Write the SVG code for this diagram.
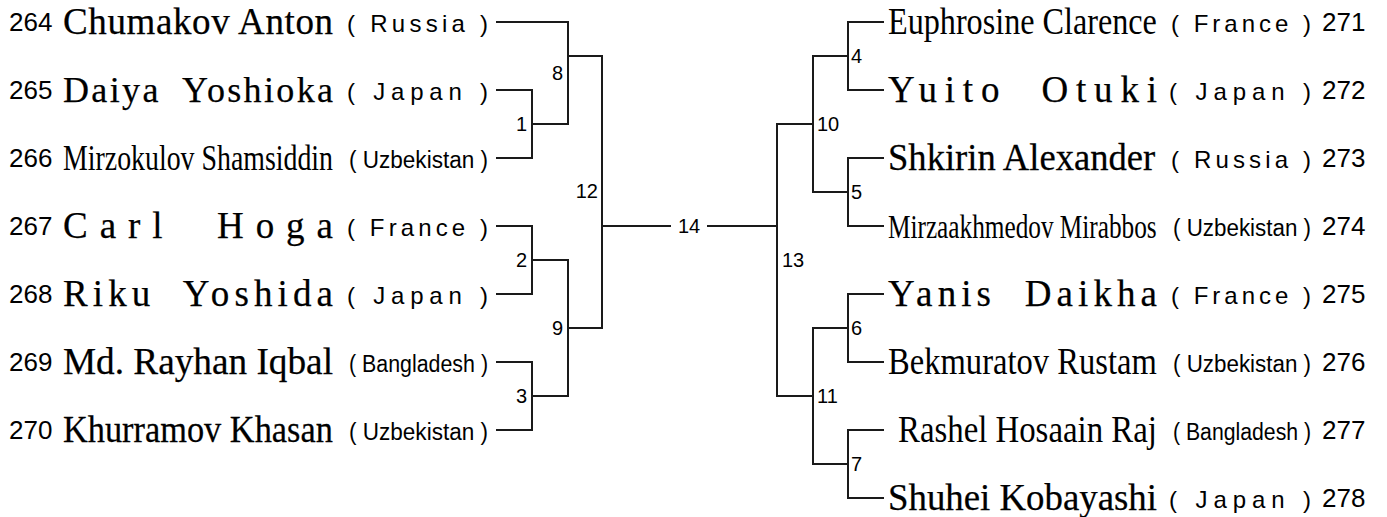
<svg xmlns="http://www.w3.org/2000/svg" width="1387" height="517" viewBox="0 0 1387 517">
<style>
.bg{fill:#ffffff}
.num{font-family:"Liberation Sans",Arial,sans-serif;font-size:26px;fill:#000}
.nm{font-family:"Liberation Serif","Times New Roman",serif;font-size:37px;fill:#000}
.hv{stroke:#000;stroke-width:0.25}
.ct{font-family:"Liberation Sans",Arial,sans-serif;font-size:24px;fill:#000}
.lb{font-family:"Liberation Sans",Arial,sans-serif;font-size:20px;fill:#000}
.ln{fill:none;stroke:#1a1a1a;stroke-width:2;stroke-linecap:square}
</style>
<rect class="bg" x="0" y="0" width="1387" height="517"/>

<g id="connectors">
<path class="ln" d="M497,22 H568 M497,90 H532 V158 H497 M532,124 H568 M568,22 V124 M568,56 H602"/>
<path class="ln" d="M497,226 H532 V294 H497 M532,260 H568 M497,362 H532 V430 H497 M532,396 H568 M568,260 V396 M568,328 H602"/>
<path class="ln" d="M602,56 V328 M602,226 H670 M708,226 H777"/>
<path class="ln" d="M777,124 V396 M777,124 H813 M777,396 H813"/>
<path class="ln" d="M813,56 V192 M813,56 H848 M813,192 H848 M848,22 V90 M848,22 H883 M848,90 H883 M848,158 V226 M848,158 H883 M848,226 H883"/>
<path class="ln" d="M813,328 V464 M813,328 H848 M813,464 H848 M848,294 V362 M848,294 H883 M848,362 H883 M848,430 V498 M848,430 H883 M848,498 H883"/>
</g>

<g id="p264"><text class="num" x="9" y="31">264</text><text class="nm hv" x="63" y="34" textLength="270" lengthAdjust="spacing">Chumakov Anton</text><text class="ct" x="347" y="32" textLength="141" lengthAdjust="spacing">( Russia )</text></g>
<g id="p265"><text class="num" x="9" y="99">265</text><text class="nm hv" x="63" y="102" style="font-size:36px" xml:space="preserve" textLength="270" lengthAdjust="spacing">Daiya  Yoshioka</text><text class="ct" x="347" y="100" textLength="141" lengthAdjust="spacing">( Japan )</text></g>
<g id="p266"><text class="num" x="9" y="167">266</text><text class="nm" transform="translate(63,170) scale(0.796,1)" x="0" y="0" style="font-size:35px">Mirzokulov Shamsiddin</text><text class="ct" x="349" y="168" style="font-size:23px" textLength="139" lengthAdjust="spacingAndGlyphs">( Uzbekistan )</text></g>
<g id="p267"><text class="num" x="9" y="235">267</text><text class="nm hv" x="63" y="238" xml:space="preserve" textLength="270" lengthAdjust="spacing">Carl  Hoga</text><text class="ct" x="347" y="236" textLength="141" lengthAdjust="spacing">( France )</text></g>
<g id="p268"><text class="num" x="9" y="303">268</text><text class="nm hv" x="63" y="306" xml:space="preserve" textLength="270" lengthAdjust="spacing">Riku  Yoshida</text><text class="ct" x="347" y="304" textLength="141" lengthAdjust="spacing">( Japan )</text></g>
<g id="p269"><text class="num" x="9" y="371">269</text><text class="nm hv" x="63" y="374" textLength="270" lengthAdjust="spacingAndGlyphs">Md. Rayhan Iqbal</text><text class="ct" x="349" y="372" style="font-size:23px" textLength="139" lengthAdjust="spacingAndGlyphs">( Bangladesh )</text></g>
<g id="p270"><text class="num" x="9" y="439">270</text><text class="nm hv" transform="translate(63,442) scale(0.928,1)" x="0" y="0">Khurramov Khasan</text><text class="ct" x="349" y="440" style="font-size:23px" textLength="139" lengthAdjust="spacingAndGlyphs">( Uzbekistan )</text></g>

<g id="p271"><text class="nm" transform="translate(888,34) scale(0.870,1)" x="0" y="0">Euphrosine Clarence</text><text class="ct" x="1171" y="32" textLength="140" lengthAdjust="spacing">( France )</text><text class="num" x="1322" y="31">271</text></g>
<g id="p272"><text class="nm hv" x="888" y="102" xml:space="preserve" textLength="269" lengthAdjust="spacing">Yuito  Otuki</text><text class="ct" x="1169" y="100" textLength="142" lengthAdjust="spacing">( Japan )</text><text class="num" x="1322" y="99">272</text></g>
<g id="p273"><text class="nm hv" transform="translate(888,170) scale(0.989,1)" x="0" y="0">Shkirin Alexander</text><text class="ct" x="1171" y="168" textLength="140" lengthAdjust="spacing">( Russia )</text><text class="num" x="1322" y="167">273</text></g>
<g id="p274"><text class="nm" transform="translate(888,238) scale(0.766,1)" x="0" y="0" style="font-size:33px">Mirzaakhmedov Mirabbos</text><text class="ct" x="1173" y="236" style="font-size:23px" textLength="138" lengthAdjust="spacingAndGlyphs">( Uzbekistan )</text><text class="num" x="1322" y="235">274</text></g>
<g id="p275"><text class="nm hv" x="888" y="306" xml:space="preserve" textLength="269" lengthAdjust="spacing">Yanis  Daikha</text><text class="ct" x="1171" y="304" textLength="140" lengthAdjust="spacing">( France )</text><text class="num" x="1322" y="303">275</text></g>
<g id="p276"><text class="nm" transform="translate(888,374) scale(0.881,1)" x="0" y="0">Bekmuratov Rustam</text><text class="ct" x="1173" y="372" style="font-size:23px" textLength="138" lengthAdjust="spacingAndGlyphs">( Uzbekistan )</text><text class="num" x="1322" y="371">276</text></g>
<g id="p277"><text class="nm" transform="translate(898,442) scale(0.887,1)" x="0" y="0">Rashel Hosaain Raj</text><text class="ct" x="1173" y="440" style="font-size:23px" textLength="138" lengthAdjust="spacingAndGlyphs">( Bangladesh )</text><text class="num" x="1322" y="439">277</text></g>
<g id="p278"><text class="nm hv" x="888" y="510" textLength="269" lengthAdjust="spacingAndGlyphs">Shuhei Kobayashi</text><text class="ct" x="1169" y="508" textLength="142" lengthAdjust="spacing">( Japan )</text><text class="num" x="1322" y="507">278</text></g>

<g id="matches">
<g id="m1"><text class="lb" x="527" y="131" text-anchor="end">1</text></g>
<g id="m2"><text class="lb" x="527" y="267" text-anchor="end">2</text></g>
<g id="m3"><text class="lb" x="527" y="403" text-anchor="end">3</text></g>
<g id="m8"><text class="lb" x="563" y="80" text-anchor="end">8</text></g>
<g id="m9"><text class="lb" x="563" y="335" text-anchor="end">9</text></g>
<g id="m12"><text class="lb" x="598" y="198" text-anchor="end">12</text></g>
<g id="m14"><text class="lb" x="689" y="233" text-anchor="middle">14</text></g>
<g id="m13"><text class="lb" x="782" y="267">13</text></g>
<g id="m10"><text class="lb" x="817" y="131">10</text></g>
<g id="m11"><text class="lb" x="817" y="403">11</text></g>
<g id="m4"><text class="lb" x="851" y="63">4</text></g>
<g id="m5"><text class="lb" x="851" y="199">5</text></g>
<g id="m6"><text class="lb" x="851" y="335">6</text></g>
<g id="m7"><text class="lb" x="851" y="471">7</text></g>
</g>
</svg>
